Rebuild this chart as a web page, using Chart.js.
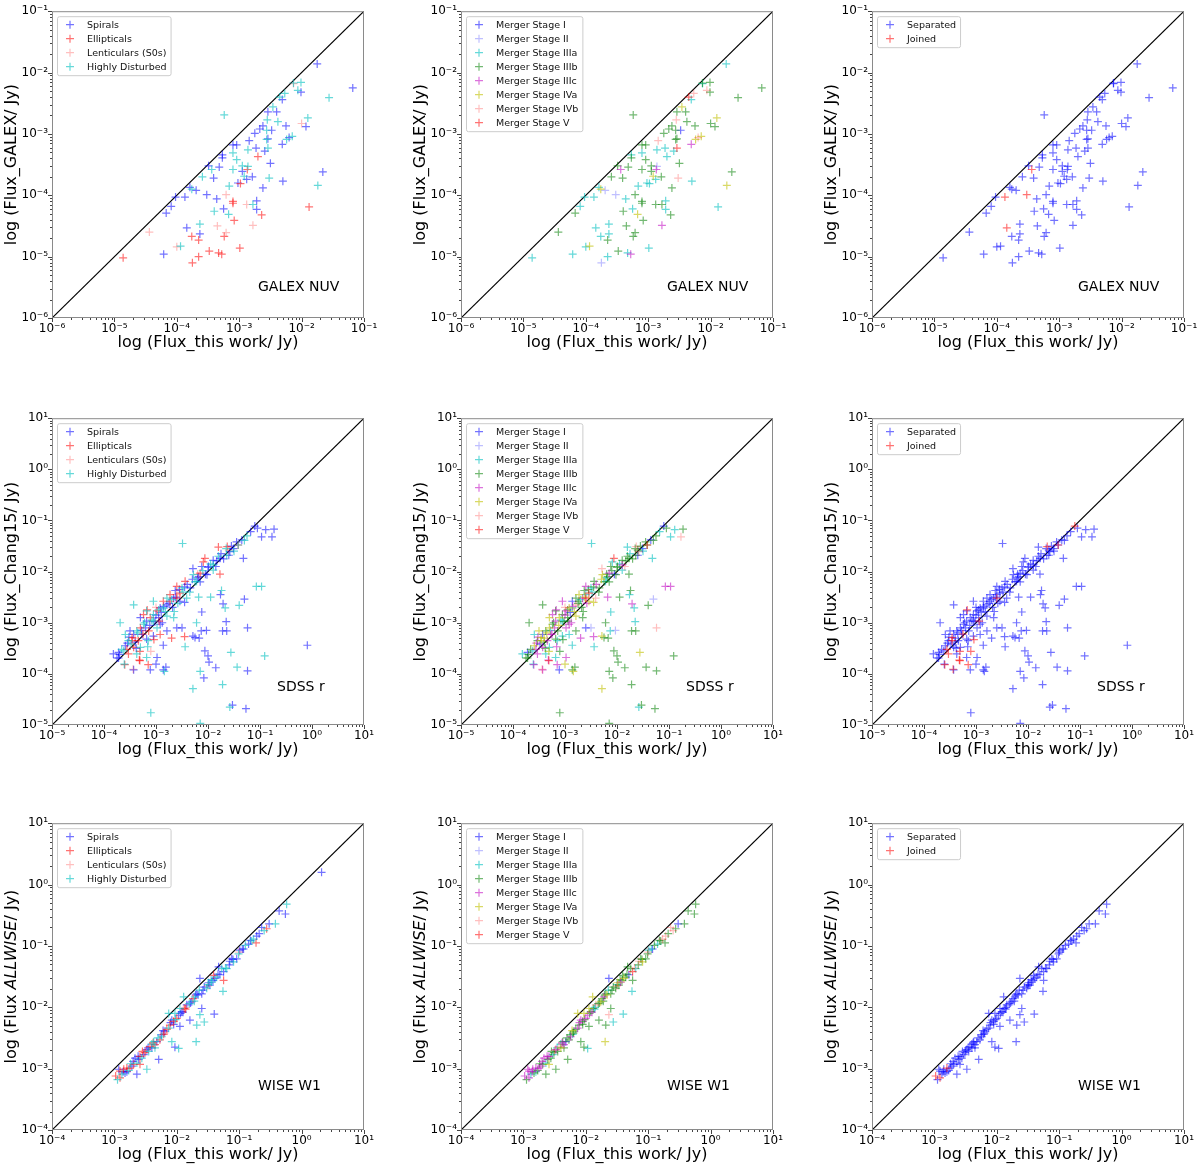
<!DOCTYPE html>
<html>
<head>
<meta charset="utf-8">
<script src="https://cdn.jsdelivr.net/npm/chart.js@4.4.1/dist/chart.umd.min.js"></script>
<style>
  body { margin: 0; background: #fff; width: 1200px; height: 1168px; position: relative; overflow: hidden; }
  .panel { position: absolute; width: 410px; height: 405px; }
</style>
</head>
<body>
<div class="panel" style="left:0px;top:0px"><canvas id="p00" width="410" height="405"></canvas></div>
<div class="panel" style="left:409px;top:0px"><canvas id="p01" width="410" height="405"></canvas></div>
<div class="panel" style="left:820px;top:0px"><canvas id="p02" width="410" height="405"></canvas></div>
<div class="panel" style="left:0px;top:407px"><canvas id="p10" width="410" height="405"></canvas></div>
<div class="panel" style="left:409px;top:407px"><canvas id="p11" width="410" height="405"></canvas></div>
<div class="panel" style="left:820px;top:407px"><canvas id="p12" width="410" height="405"></canvas></div>
<div class="panel" style="left:0px;top:812px"><canvas id="p20" width="410" height="405"></canvas></div>
<div class="panel" style="left:409px;top:812px"><canvas id="p21" width="410" height="405"></canvas></div>
<div class="panel" style="left:820px;top:812px"><canvas id="p22" width="410" height="405"></canvas></div>
<script>
// values are log10(flux / Jy)
// morph: S spiral, E elliptical, L lenticular, H highly disturbed
// stage: 1 I, 2 II, a IIIa, b IIIb, c IIIc, d IVa, e IVb, 5 V, n none

// ---- GALEX NUV ----
const galexDecades = [-6, -5, -4, -3, -2, -1];
const galexLogThis = [
  -4.86,-4.44,-4.21,-4.17,-4.09,-4.02,-3.87,-3.84,-4.00,-3.94,
  -3.76,-3.79,-3.69,-3.76,-3.65,-3.75,-3.65,-3.63,-3.63,-3.59,
  -3.52,-3.48,-3.49,-3.44,-3.41,-3.36,-3.35,-3.40,-3.33,-3.28,
  -3.32,-3.27,-3.27,-3.24,-3.25,-3.24,-3.21,-3.21,-3.16,-3.17,
  -3.10,-3.10,-3.08,-3.10,-3.10,-3.10,-3.04,-3.04,-3.02,-2.99,
  -2.98,-2.95,-2.95,-2.92,-2.88,-2.88,-2.87,-2.86,-2.86,-2.84,
  -2.79,-2.78,-2.78,-2.72,-2.72,-2.75,-2.73,-2.70,-2.67,-2.62,
  -2.64,-2.62,-2.59,-2.56,-2.56,-2.55,-2.54,-2.54,-2.54,-2.52,
  -2.50,-2.48,-2.46,-2.40,-2.38,-2.35,-2.31,-2.31,-2.30,-2.27,
  -2.25,-2.24,-2.20,-2.15,-2.13,-2.13,-2.06,-2.01,-2.01,-2.00,
  -1.93,-1.90,-1.88,-1.75,-1.74,-1.66,-1.56,-1.18
];
const galexLogRef = [
  -5.02,-4.60,-4.96,-4.29,-4.18,-4.03,-4.03,-4.53,-4.84,-4.83,
  -3.90,-3.87,-3.92,-4.67,-4.73,-5.10,-5.00,-4.63,-4.47,-3.70,
  -3.99,-4.91,-3.52,-3.58,-3.72,-4.06,-4.50,-4.26,-4.94,-4.96,
  -3.54,-3.39,-3.34,-2.69,-4.22,-4.67,-4.61,-3.99,-3.85,-4.31,
  -4.13,-4.10,-4.41,-3.58,-3.31,-3.18,-3.18,-3.42,-3.80,-4.86,
  -3.81,-3.61,-3.52,-3.69,-3.74,-4.15,-3.58,-3.53,-3.26,-3.11,
  -3.70,-4.49,-4.15,-4.09,-4.23,-2.99,-3.23,-3.37,-2.92,-2.87,
  -4.32,-3.88,-3.28,-2.94,-3.09,-2.77,-2.64,-3.08,-3.23,-3.72,
  -3.48,-2.94,-2.56,-2.64,-2.80,-2.40,-2.44,-3.17,-3.77,-2.34,
  -2.87,-3.09,-3.06,-3.04,-2.18,-2.17,-2.29,-2.32,-2.16,-2.83,
  -2.88,-2.74,-4.19,-1.86,-3.84,-3.62,-2.41,-2.25
];
const galexMorph = 'ELSSSSSSLH' + 'HSSEEEESHH' + 'SESHSSLHEE' + 'SSSHSELLHH' + 'EEEHHSSHSE' +
  'ESHHSLEHHS' + 'SLHSSSSESS' + 'ESSHHHSSHH' + 'SSHSHHSSSH' + 'SHSHLHHSHL' + 'SHESHSHS';
const galexStage = 'ababaaaaad' + 'da2ab2aaab' + '2bbcbabbac' + 'bbababbbad' + 'bbbbabbbaa' +
  'abbdabc2ae' + 'bcbaabaabb' + 'bbabbebb5e' + 'b1dbb5acae' + 'bdedabebbb' + 'bdaadbbb';
const galexJoined = [6, 7, 20, 23];
const galexUnpaired = [];

// ---- SDSS r ----
const sdssDecades = [-5, -4, -3, -2, -1, 0, 1];
const sdssLogThis = [
  -3.72,-3.61,-3.43,-3.32,-3.18,-3.16,-3.11,-3.10,-3.00,-2.98,
  -2.86,-2.84,-2.81,-2.86,-2.70,-2.60,-2.50,-2.45,-2.44,-2.29,
  -2.29,-2.25,-2.22,-2.18,-2.17,-2.15,-2.15,-2.12,-2.08,-2.13,
  -2.06,-2.03,-2.00,-1.98,-1.95,-1.85,-1.76,-1.74,-1.72,-1.71,
  -1.72,-1.67,-1.65,-1.64,-1.58,-1.53,-1.56,-1.44,-1.40,-1.30,
  -1.24,-1.24,-1.27,-1.07,-0.97,-0.91,-0.09,-2.49,-3.43,-3.18,
  -3.69,-3.59,-1.10,-0.89,-0.73,-0.97,-0.77,-1.32,-1.30,-1.42,
  -1.51,-1.80,-1.58,-1.64,-1.77,-1.83,-1.90,-1.99,-2.06,-2.09,
  -2.12,-2.29,-2.15,-1.77,-2.28,-2.44,-2.50,-2.60,-2.63,-2.73,
  -2.79,-2.86,-2.66,-2.54,-2.92,-2.98,-3.05,-2.86,-2.79,-3.11,
  -3.18,-3.24,-3.30,-3.27,-3.37,-3.43,-3.46,-3.34,-3.18,-3.05,
  -2.98,-3.53,-3.59,-3.56,-3.66,-3.72,-3.43,-3.30,-3.14,-3.50,
  -3.75,-3.82,-3.53,-3.37,-2.66,-2.54,-2.41,-2.34,-2.22,-2.18,
  -2.02,-1.90,-3.05,-2.73,-3.24,-3.30,-3.05,-2.95,-2.92,-2.79,
  -2.92,-2.79,-3.00,-2.60,-3.40,-2.20,-1.60,
  -3.60,-3.44,-3.31,-3.15,-3.31,-3.10,-3.17,-2.94,-2.60,-1.63,
  -1.42,-3.25,-3.46,-3.04,
  -3.70,-3.62,-3.55,-3.48,-3.40,-3.35,-3.28,-3.20,-3.22,-3.12,
  -3.08,-3.00,-3.02,-2.95,-2.90,-2.85,-2.82,-2.75,-2.70,-2.68,
  -2.62,-2.58,-2.55,-2.48,-2.45,-2.40,-2.35,-2.30,-2.25,-2.20,
  -2.15,-2.10,-2.05,-2.00,-1.95,-1.90,-1.85,-1.80,-1.75,-1.70,
  -1.65,-1.60,-1.55,-1.50,-1.45,-1.35,-1.25,-1.18,-1.05,-3.52,
  -3.38,-3.15,-2.88,-2.65,-2.45
];
const sdssLogRef = [
  -3.69,-3.81,-3.92,-3.73,-3.68,-3.47,-3.92,-4.76,-3.81,-3.68,
  -3.92,-3.95,-3.87,-3.44,-3.30,-3.10,-3.10,-3.27,-3.47,-3.26,
  -4.29,-3.29,-3.00,-2.50,-3.30,-4.97,-3.95,-2.79,-4.08,-3.16,
  -3.55,-3.15,-3.65,-3.77,-2.50,-3.88,-2.45,-2.37,-4.21,-2.63,
  -3.16,-2.71,-2.98,-3.16,-4.65,-4.61,-3.58,-3.87,-2.66,-2.54,
  -3.10,-3.94,-4.68,-2.29,-2.29,-3.65,-3.44,-1.45,-2.65,-2.77,
  -3.00,-3.23,-1.11,-1.18,-1.17,-1.32,-1.32,-1.74,-1.39,-1.48,
  -1.55,-1.52,-1.61,-1.68,-1.74,-1.79,-1.87,-1.90,-1.74,-1.81,
  -1.90,-1.94,-2.03,-2.05,-2.06,-2.19,-2.32,-2.29,-2.37,-2.45,
  -2.52,-2.58,-2.52,-2.42,-2.71,-2.77,-2.84,-2.71,-2.65,-2.90,
  -2.97,-3.03,-3.10,-3.23,-3.16,-3.23,-3.29,-3.35,-3.32,-3.26,
  -3.10,-3.35,-3.45,-3.52,-3.52,-3.58,-3.48,-3.48,-3.16,-3.16,
  -3.69,-3.61,-3.61,-3.61,-2.90,-2.58,-2.52,-2.32,-2.19,-2.10,
  -2.06,-1.97,-2.58,-2.58,-2.84,-2.90,-2.97,-2.90,-3.03,-2.87,
  -3.23,-3.16,-2.70,-2.45,-3.30,-2.05,-1.58,
  -3.82,-3.91,-3.74,-3.82,-3.56,-3.56,-2.75,-2.97,-2.52,-1.51,
  -1.48,-3.22,-3.35,-3.33,
  -3.62,-3.55,-3.40,-3.42,-3.38,-3.20,-3.15,-3.10,-3.00,-3.05,
  -2.95,-2.85,-2.98,-2.75,-2.80,-2.68,-2.78,-2.62,-2.55,-2.70,
  -2.50,-2.62,-2.35,-2.40,-2.30,-2.25,-2.40,-2.15,-2.20,-2.12,
  -2.20,-1.98,-2.05,-1.92,-1.85,-1.78,-1.90,-1.70,-1.65,-1.75,
  -1.55,-1.68,-1.50,-1.60,-1.42,-1.38,-1.30,-1.22,-1.15,-3.28,
  -3.50,-3.35,-3.00,-2.78,-2.60
];
const sdssMorph = 'SHSEHHSHSS' + 'SHSSESSEHS' + 'HSHHSHHSSS' + 'SSSSHSSHHS' + 'SHSSHSHHHS' +
  'SSSHHHSHHH' + 'HHSSSSSSHH' + 'SESHSSHSEE' + 'SSEEHEHESE' + 'HESESEHHSE' +
  'SHESHSEESS' + 'HHSEHSEHES' + 'SSEHHSHSHS' + 'SHHEESHSSH' + 'ESLLLLL' +
  'ELEEELEEEEEEEE' +
  'SHSHSHSSHS' + 'HSSHSSHSHS' + 'SHSHSSHSHS' + 'SHSSHSSHSS' + 'HSSHSSHSSS' + 'SHSHS';
const sdssStage = 'baccac1bdc' + 'bdbac12cad' + 'dbbcbbbaba' + 'b2bbbbabbc' + 'baababdbb2' +
  'ebbccbnabb' + 'ba1abaeabb' + '1aebbbcb5a' + 'becbdbacbd' + 'b1c5dcbaed' +
  'cbdcb1dcba' + 'cbdcb1cabd' + 'bacabdebab' + 'bacbcdabcd' + 'abeadbb' +
  'ce5cdbcb5e5cdb' +
  'bac1bdacbd' + 'acbb1cdbab' + 'dcbabcbdba' + 'bb1babebab' + 'b1bab1babc' + 'bacbd';
const sdssJoined = [3, 62, 106, 113, 122, 147, 148, 149, 150, 151, 152, 153, 154, 155, 156, 157, 158, 159, 160];
const sdssUnpaired = [];

// ---- WISE W1 ----
const wiseDecades = [-4, -3, -2, -1, 0, 1];
const wiseLogThis = [
  0.32,-0.24,-0.26,-0.36,-0.42,-0.52,-0.56,-0.64,-0.72,-0.73,
  -0.77,-0.82,-0.85,-0.90,-0.93,-0.99,-1.01,-1.04,-1.09,-1.12,
  -1.16,-1.20,-1.25,-1.28,-1.31,-1.33,-1.36,-1.39,-1.41,-1.25,
  -1.26,-1.44,-1.47,-1.49,-1.52,-1.56,-1.63,-1.60,-1.64,-1.68,
  -1.71,-1.74,-1.76,-1.80,-1.84,-1.88,-1.92,-1.95,-1.60,-1.40,
  -1.63,-1.56,-1.68,-1.69,-1.79,-1.97,-2.00,-2.03,-2.05,-2.08,
  -2.11,-1.95,-2.13,-2.19,-2.21,-2.24,-2.27,-2.32,-2.35,-2.37,
  -2.40,-2.43,-2.45,-2.48,-2.51,-2.53,-2.56,-2.08,-2.03,-1.97,
  -2.29,-2.59,-2.61,-2.64,-2.67,-2.69,-2.72,-2.48,-2.64,-2.75,
  -2.77,-2.80,-2.83,-2.85,-2.88,-2.91,-2.93,-2.91,-2.95,-2.59,
  -2.35,-1.89,-2.13,-2.70,-2.50,-2.20,-1.85,-1.50,-1.00,-2.05,
  -2.25,-1.90,-2.40,-2.80,-1.70,-1.45,-1.15,-0.60,
  -2.98,-2.86,-2.74,-2.62,-2.55,-2.46,-2.38,-2.30,-2.22,-2.16,
  -2.10,-2.02,-1.94,-1.86,-1.78,-1.72,-1.66,-1.58,-1.50,-1.42,
  -1.34,-1.22,-1.10,-0.95,-0.80,-0.68
];
const wiseLogRef = [
  0.20,-0.32,-0.48,-0.43,-0.64,-0.64,-0.72,-0.70,-0.84,-0.95,
  -0.89,-0.91,-0.97,-0.99,-1.05,-1.07,-1.13,-1.21,-1.26,-1.21,
  -1.31,-1.37,-1.42,-1.37,-1.47,-1.34,-1.51,-1.53,-1.48,-1.56,
  -1.74,-1.59,-1.64,-1.60,-1.69,-1.67,-1.53,-1.78,-1.72,-1.78,
  -1.83,-1.86,-1.91,-1.94,-1.96,-2.02,-2.07,-2.02,-2.02,-2.11,
  -2.12,-2.24,-2.29,-2.56,-2.21,-2.13,-2.18,-2.10,-2.23,-2.21,
  -2.29,-2.31,-2.34,-2.39,-2.44,-2.48,-2.53,-2.56,-2.61,-2.56,
  -2.66,-2.64,-2.72,-2.69,-2.74,-2.77,-2.83,-2.56,-2.65,-2.67,
  -2.85,-2.80,-2.85,-2.91,-2.83,-2.93,-2.96,-3.01,-3.09,-2.99,
  -3.03,-2.99,-3.07,-3.01,-3.09,-3.04,-3.01,-3.15,-3.18,-2.93,
  -2.66,-1.83,-2.10,-2.88,-2.70,-2.42,-2.00,-1.65,-1.10,-2.28,
  -2.45,-2.08,-2.60,-3.05,-1.80,-1.55,-1.25,-0.75,
  -3.12,-3.05,-2.92,-2.80,-2.72,-2.66,-2.58,-2.50,-2.38,-2.36,
  -2.25,-2.20,-2.10,-2.03,-1.93,-1.90,-1.80,-1.72,-1.63,-1.56,
  -1.46,-1.36,-1.22,-1.05,-0.92,-0.80
];
const wiseMorph = 'SHSSHSESSE' + 'HSSHSSHSHS' + 'SHSHSSHSEE' + 'HHSSHSSSHS' + 'HESHSESHSS' +
  'HHHHSSEHES' + 'ESHSEHESEH' + 'SEHSESHHSH' + 'SESHSESHSE' + 'HESEHESEHE' +
  'HHHSLLLLLS' + 'SSHSSHSH' +
  'ESHSESEHSE' + 'SHSESHSSHS' + 'SHSSHS';
const wiseStage = 'nbbbb1beeb' + 'ebab1abbdb' + 'ba5b1bbdbb' + 'acbdbb1bab' + 'cbdbebbdba' +
  'eabdbccdbc' + 'bbcbacb1cb' + 'debcbabbba' + 'bcbacbcbbc' + 'bcbcacccbd' +
  'bddcebaeeb' + 'bcaabbee' +
  'ccbcbacbdb' + 'cbbabbdbab' + 'bebabb';
const wiseJoined = [91, 97, 118];
const wiseUnpaired = [0];

const morphGroups = [
  { code: 'S', label: 'Spirals', color: 'rgba(0,0,255,0.55)' },
  { code: 'E', label: 'Ellipticals', color: 'rgba(255,0,0,0.55)' },
  { code: 'L', label: 'Lenticulars (S0s)', color: 'rgba(255,0,0,0.25)' },
  { code: 'H', label: 'Highly Disturbed', color: 'rgba(0,191,191,0.6)' }
];
const stageGroups = [
  { code: '1', label: 'Merger Stage I', color: 'rgba(0,0,255,0.55)' },
  { code: '2', label: 'Merger Stage II', color: 'rgba(0,0,255,0.25)' },
  { code: 'a', label: 'Merger Stage IIIa', color: 'rgba(0,191,191,0.6)' },
  { code: 'b', label: 'Merger Stage IIIb', color: 'rgba(0,128,0,0.55)' },
  { code: 'c', label: 'Merger Stage IIIc', color: 'rgba(191,0,191,0.55)' },
  { code: 'd', label: 'Merger Stage IVa', color: 'rgba(191,191,0,0.6)' },
  { code: 'e', label: 'Merger Stage IVb', color: 'rgba(255,0,0,0.25)' },
  { code: '5', label: 'Merger Stage V', color: 'rgba(255,0,0,0.55)' }
];
const pairGroups = [
  { code: 's', label: 'Separated', color: 'rgba(0,0,255,0.55)' },
  { code: 'j', label: 'Joined', color: 'rgba(255,0,0,0.55)' }
];

const rows = [
  { logThis: galexLogThis, logRef: galexLogRef, morph: galexMorph, stage: galexStage,
    joined: galexJoined, unpaired: galexUnpaired, decades: galexDecades,
    yTitle: [['log (Flux_GALEX/ Jy)', false]], band: 'GALEX NUV', bandX: 206, bandY: 276 },
  { logThis: sdssLogThis, logRef: sdssLogRef, morph: sdssMorph, stage: sdssStage,
    joined: sdssJoined, unpaired: sdssUnpaired, decades: sdssDecades,
    yTitle: [['log (Flux_Chang15/ Jy)', false]], band: 'SDSS r', bandX: 225, bandY: 269 },
  { logThis: wiseLogThis, logRef: wiseLogRef, morph: wiseMorph, stage: wiseStage,
    joined: wiseJoined, unpaired: wiseUnpaired, decades: wiseDecades,
    yTitle: [['log (Flux ', false], ['ALLWISE', true], ['/ Jy)', false]], band: 'WISE W1', bandX: 206, bandY: 263 }
];

const FONT = 'DejaVu Sans';
const SUP = { '-': '⁻', '0': '⁰', '1': '¹', '2': '²', '3': '³', '4': '⁴', '5': '⁵', '6': '⁶', '7': '⁷', '8': '⁸', '9': '⁹' };
const decadeLabel = v => '10' + String(Math.round(Math.log10(v))).split('').map(c => SUP[c]).join('');
const dec = e => Number('1e' + e);

const cross = (ctx, x, y, r, color) => {
  ctx.strokeStyle = color;
  ctx.lineWidth = 1.2;
  ctx.beginPath();
  ctx.moveTo(x - r, y); ctx.lineTo(x + r, y);
  ctx.moveTo(x, y - r); ctx.lineTo(x, y + r);
  ctx.stroke();
};

const decor = {
  id: 'decor',
  afterDraw(chart) {
    const o = chart.options.plugins.decor;
    const { ctx, chartArea: a, scales } = chart;
    const lo = o.decades[0], hi = o.decades[o.decades.length - 1];
    ctx.save();

    // tick marks, major and minor
    ctx.strokeStyle = '#444';
    ctx.lineWidth = 1;
    ctx.beginPath();
    for (let e = lo; e <= hi; e++) {
      for (let m = 1; m <= 9; m++) {
        if (e === hi && m > 1) break;
        const v = m * dec(e);
        const len = m === 1 ? 4 : 2;
        const px = Math.round(scales.x.getPixelForValue(v)) + 0.5;
        const py = Math.round(scales.y.getPixelForValue(v)) + 0.5;
        ctx.moveTo(px, a.bottom); ctx.lineTo(px, a.bottom + len);
        ctx.moveTo(a.left, py); ctx.lineTo(a.left - len, py);
      }
    }
    ctx.stroke();

    // frame
    ctx.strokeStyle = '#8a8a8a';
    ctx.strokeRect(a.left + 0.5, a.top + 0.5, a.right - a.left - 1, a.bottom - a.top - 1);

    // axis titles
    ctx.fillStyle = '#000';
    ctx.textBaseline = 'middle';
    ctx.textAlign = 'center';
    ctx.font = '16px ' + FONT;
    ctx.fillText('log (Flux_this work/ Jy)', (a.left + a.right) / 2, a.bottom + 25);

    ctx.save();
    ctx.translate(a.left - 40, (a.top + a.bottom) / 2);
    ctx.rotate(-Math.PI / 2);
    ctx.textAlign = 'left';
    const fontOf = it => (it ? 'italic ' : '') + '16px ' + FONT;
    let total = 0;
    o.yTitle.forEach(([t, it]) => { ctx.font = fontOf(it); total += ctx.measureText(t).width; });
    let x = -total / 2;
    o.yTitle.forEach(([t, it]) => { ctx.font = fontOf(it); ctx.fillText(t, x, 0); x += ctx.measureText(t).width; });
    ctx.restore();

    // band label
    ctx.textAlign = 'left';
    ctx.font = '14px ' + FONT;
    ctx.fillText(o.band, a.left + o.bandX, a.top + o.bandY);

    // legend box
    ctx.font = '9.5px ' + FONT;
    const tw = Math.max(...o.groups.map(g => ctx.measureText(g.label).width));
    const bx = a.left + 5, by = a.top + 5, bw = 34 + tw, bh = o.groups.length * 14 + 3;
    ctx.beginPath();
    if (ctx.roundRect) ctx.roundRect(bx + 0.5, by + 0.5, bw, bh, 2);
    else ctx.rect(bx + 0.5, by + 0.5, bw, bh);
    ctx.fillStyle = 'rgba(255,255,255,0.8)';
    ctx.fill();
    ctx.strokeStyle = '#cccccc';
    ctx.lineWidth = 1;
    ctx.stroke();
    o.groups.forEach((g, k) => {
      const y = by + 8 + 14 * k;
      cross(ctx, a.left + 18, y + 0.5, 4, g.color);
      ctx.fillStyle = '#111';
      ctx.fillText(g.label, a.left + 35, y + 1);
    });
    ctx.restore();
  }
};

function makePanel(id, row, codes, groups) {
  const sets = groups.map((g, k) => ({
    label: g.label,
    data: row.logThis
      .map((lx, i) => codes[i] === g.code ? { x: 10 ** lx, y: 10 ** row.logRef[i] } : null)
      .filter(p => p),
    pointStyle: 'cross',
    pointRadius: 4,
    borderWidth: 1.2,
    borderColor: g.color,
    backgroundColor: g.color,
    order: groups.length - k
  }));
  const lo = dec(row.decades[0]), hi = dec(row.decades[row.decades.length - 1]);
  sets.push({
    label: 'one-to-one',
    data: [{ x: lo, y: lo }, { x: hi, y: hi }],
    showLine: true,
    borderColor: '#000',
    borderWidth: 1.2,
    pointRadius: 0,
    order: 100
  });

  const axis = (fit) => ({
    type: 'logarithmic',
    min: lo,
    max: hi,
    grid: { display: false, drawTicks: false },
    border: { display: false },
    ticks: {
      autoSkip: false,
      maxRotation: 0,
      padding: 4,
      color: '#000',
      font: { family: FONT, size: 12 },
      callback: v => decadeLabel(v)
    },
    afterBuildTicks: s => { s.ticks = row.decades.map(e => ({ value: dec(e) })); },
    afterFit: fit
  });

  new Chart(document.getElementById(id), {
    type: 'scatter',
    data: { datasets: sets },
    options: {
      responsive: false,
      animation: false,
      events: [],
      layout: { padding: { left: 0, top: 8, right: 46, bottom: 0 } },
      scales: {
        x: axis(s => { s.height = 87; }),
        y: axis(s => { s.width = 52; })
      },
      plugins: {
        legend: { display: false },
        tooltip: { enabled: false },
        decor: { decades: row.decades, yTitle: row.yTitle, band: row.band,
                 bandX: row.bandX, bandY: row.bandY, groups: groups }
      }
    },
    plugins: [decor]
  });
}

rows.forEach((row, r) => {
  const pairCodes = row.logThis.map((_, i) =>
    row.unpaired.includes(i) ? 'n' : (row.joined.includes(i) ? 'j' : 's')).join('');
  makePanel('p' + r + '0', row, row.morph, morphGroups);
  makePanel('p' + r + '1', row, row.stage, stageGroups);
  makePanel('p' + r + '2', row, pairCodes, pairGroups);
});
</script>
</body>
</html>
